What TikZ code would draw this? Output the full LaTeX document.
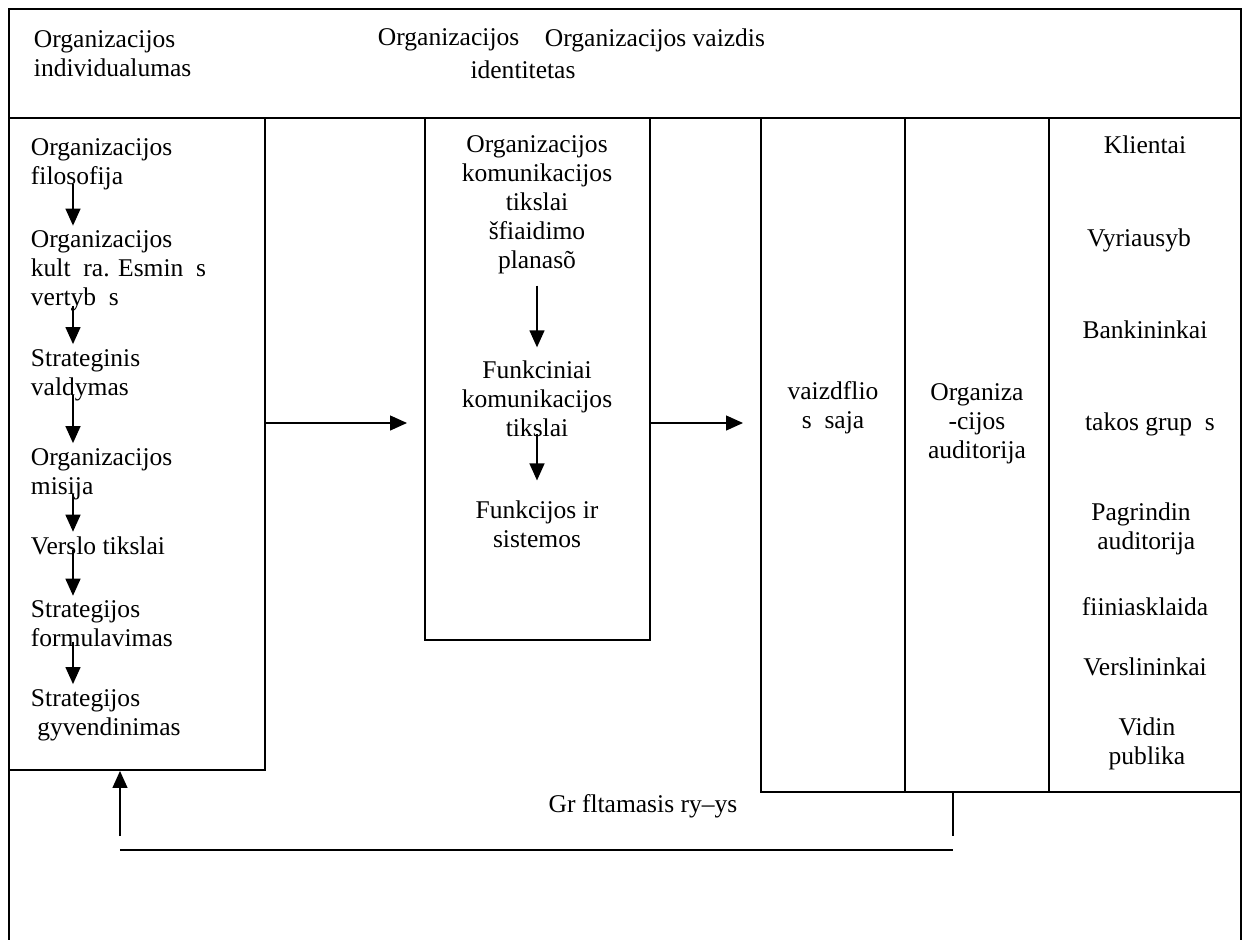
\documentclass[tikz,border=0pt]{standalone}
\usepackage{fontspec}
\setmainfont{Liberation Serif}
\usetikzlibrary{arrows.meta,fit}

\tikzset{
	txt/.style={inner sep=0pt, align=left, anchor=west},
	ctr/.style={inner sep=0pt, align=center},
	panel/.style={draw, line width=0.9pt, inner sep=0pt},
	arr/.style={-{Triangle[length=8pt,width=7pt]}, line width=0.8pt}
}

\begin{document}
\begin{tikzpicture}[x=0.47pt, y=-0.47pt, line width=0.9pt,
	every node/.style={font=\fontsize{12pt}{13.6pt}\selectfont}]
		\useasboundingbox (0,0) rectangle (1244,940);
		
		% outer frame and header line
		\draw (9,940) -- (9,9) -- (1241,9) -- (1241,940);
		\draw (9,118) -- (1241,118);
		
		% header texts
		\node[txt] (indiv) at (33,54) {Organizacijos\\individualumas};
		\node[txt] (ident) at (377,40) {Organizacijos};
		\node[txt] (vaizd) at (544,40) {Organizacijos vaizdis};
		\node[ctr] (identb) at (523,70) {identitetas};
		
		% the three panels
		\node[panel, fit={(9,118) (265,770)}] (lbox) {};
		\node[panel, fit={(425,118) (650,640)}] (mbox) {};
		\node[panel, fit={(761,118) (1241,792)}] (rbox) {};
		\draw (905,118) -- (905,792);
		\draw (1049,118) -- (1049,792);
		
		% left panel
		\coordinate (lx) at (73,0);
		\node[txt] (phil) at (30,164) {Organizacijos\\filosofija};
		\node[txt] (cult) at (30,271) {Organizacijos\\kult\ \ ra. Esmin\ \ s\\vertyb\ \ s};
		\node[txt] (strat) at (30,375) {Strateginis\\valdymas};
		\node[txt] (miss) at (30,474) {Organizacijos\\misija};
		\node[txt] (biz) at (30,546) {Verslo tikslai};
		\node[txt] (form) at (30,624) {Strategijos\\formulavimas};
		\node[txt] (impl) at (30,715) {Strategijos\\\hspace*{3pt}gyvendinimas};
		\foreach \a/\b in {phil/cult, cult/strat, strat/miss, miss/biz, biz/form, form/impl}
			\draw[arr, shorten <=-3pt, shorten >=2pt] (\a.south -| lx) -- (\b.north -| lx);
		
		% middle panel
		\node[ctr] (goals) at (537,205) {Organizacijos\\komunikacijos\\tikslai\\šfiaidimo\\planasõ};
		\node[ctr] (func) at (537,399) {Funkciniai\\komunikacijos\\tikslai};
		\node[ctr] (sys) at (537,524) {Funkcijos ir\\sistemos};
		\draw[arr, shorten <=5pt, shorten >=6pt] (goals) -- (func);
		\draw[arr, shorten <=-2pt, shorten >=9pt] (func) -- (sys);
		
		% right panel columns
		\node[ctr] (image) at (833,408) {vaizdflio\\s\ \ saja};
		\node[ctr] (aud) at (977,424) {Organiza\\-cijos\\auditorija};
		\node[ctr] (cli) at (1145,145) {Klientai};
		\node[ctr] (gov) at (1139,240) {Vyriausyb};
		\node[ctr] (bank) at (1145,330) {Bankininkai};
		\node[ctr] (infl) at (1150,424) {takos grup\ \ s};
		\node[ctr] (main) at (1141,529) {Pagrindin\\\hspace*{5pt}auditorija};
		\node[ctr] (media) at (1145,607) {fiiniasklaida};
		\node[ctr] (busn) at (1145,667) {Verslininkai};
		\node[ctr] (inner) at (1147,744) {Vidin\\publika};
		
		% arrows between panels
		\coordinate (row) at (0,423);
		\draw[arr, shorten >=8pt] (lbox.east |- row) -- (mbox.west |- row);
		\draw[arr, shorten >=8pt] (mbox.east |- row) -- (rbox.west |- row);
		
		% feedback
		\coordinate (fbR) at (953,836);
		\coordinate (fbL) at (120,836);
		\coordinate (fbA) at (120,850);
		\coordinate (fbB) at (953,850);
		\node[ctr] (fb) at (643,806) {Gr fltamasis ry–ys};
		\draw (rbox.south -| fbR) -- (fbR);
		\draw (fbA) -- (fbB);
		\draw[arr] (fbL) -- (lbox.south -| fbL);
		
\end{tikzpicture}
\end{document}
